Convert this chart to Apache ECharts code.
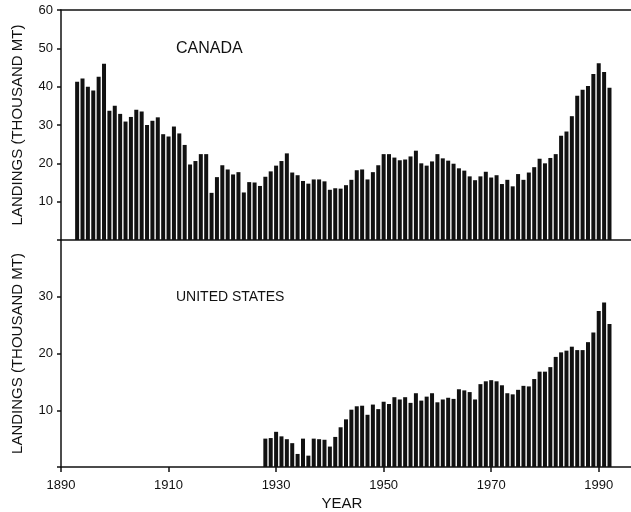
<!DOCTYPE html>
<html>
<head>
<meta charset="utf-8">
<script src="https://cdn.jsdelivr.net/npm/echarts@6/dist/echarts.min.js"></script>
<style>
  html, body { margin: 0; padding: 0; background: #fff; }
  #chart { width: 631px; height: 512px; }
</style>
</head>
<body>
<div id="chart"></div>
<script>
// Annual landings, thousand metric tons
const canadaYears = [
  1893, 1894, 1895, 1896, 1897, 1898, 1899, 1900, 1901, 1902,
  1903, 1904, 1905, 1906, 1907, 1908, 1909, 1910, 1911, 1912,
  1913, 1914, 1915, 1916, 1917, 1918, 1919, 1920, 1921, 1922,
  1923, 1924, 1925, 1926, 1927, 1928, 1929, 1930, 1931, 1932,
  1933, 1934, 1935, 1936, 1937, 1938, 1939, 1940, 1941, 1942,
  1943, 1944, 1945, 1946, 1947, 1948, 1949, 1950, 1951, 1952,
  1953, 1954, 1955, 1956, 1957, 1958, 1959, 1960, 1961, 1962,
  1963, 1964, 1965, 1966, 1967, 1968, 1969, 1970, 1971, 1972,
  1973, 1974, 1975, 1976, 1977, 1978, 1979, 1980, 1981, 1982,
  1983, 1984, 1985, 1986, 1987, 1988, 1989, 1990, 1991, 1992
];
const canadaLandings = [
  41.3, 42.1, 40.0, 39.0, 42.6, 46.0, 33.7, 35.0, 32.9, 30.9,
  32.1, 34.0, 33.5, 30.0, 31.1, 32.0, 27.6, 27.0, 29.6, 27.8,
  24.8, 19.7, 20.6, 22.4, 22.4, 12.3, 16.4, 19.5, 18.4, 17.1,
  17.7, 12.4, 15.1, 15.0, 14.1, 16.5, 17.9, 19.4, 20.6, 22.6,
  17.6, 16.9, 15.4, 14.7, 15.8, 15.8, 15.3, 13.1, 13.5, 13.4,
  14.3, 15.7, 18.2, 18.4, 15.8, 17.7, 19.5, 22.4, 22.4, 21.5,
  20.8, 21.0, 21.8, 23.3, 20.0, 19.4, 20.5, 22.4, 21.3, 20.7,
  19.9, 18.7, 18.1, 16.6, 15.6, 16.6, 17.8, 16.3, 16.9, 14.6,
  15.7, 14.0, 17.2, 15.7, 17.6, 19.0, 21.2, 20.0, 21.4, 22.4,
  27.2, 28.3, 32.3, 37.6, 39.2, 40.2, 43.3, 46.1, 43.8, 39.7
];

const usYears = [
  1928, 1929, 1930, 1931, 1932, 1933, 1934, 1935, 1936, 1937,
  1938, 1939, 1940, 1941, 1942, 1943, 1944, 1945, 1946, 1947,
  1948, 1949, 1950, 1951, 1952, 1953, 1954, 1955, 1956, 1957,
  1958, 1959, 1960, 1961, 1962, 1963, 1964, 1965, 1966, 1967,
  1968, 1969, 1970, 1971, 1972, 1973, 1974, 1975, 1976, 1977,
  1978, 1979, 1980, 1981, 1982, 1983, 1984, 1985, 1986, 1987,
  1988, 1989, 1990, 1991, 1992
];
const usLandings = [
  5.0, 5.1, 6.2, 5.4, 4.9, 4.2, 2.3, 5.0, 2.0, 5.0,
  4.9, 4.8, 3.6, 5.3, 7.0, 8.4, 10.1, 10.7, 10.8, 9.2,
  11.0, 10.2, 11.5, 11.1, 12.3, 11.9, 12.3, 11.3, 13.0, 11.7,
  12.4, 13.0, 11.4, 11.9, 12.2, 12.0, 13.7, 13.5, 13.2, 11.9,
  14.6, 15.1, 15.3, 15.1, 14.4, 13.0, 12.8, 13.6, 14.3, 14.2,
  15.5, 16.8, 16.8, 17.6, 19.4, 20.2, 20.5, 21.2, 20.6, 20.6,
  22.0, 23.7, 27.5, 29.0, 25.2
];

const panelLabels = ['CANADA', 'UNITED STATES'];
const yAxisTitle = 'LANDINGS (THOUSAND MT)';
const xAxisTitle = 'YEAR';

const FONT = '"Liberation Sans", Arial, Helvetica, sans-serif';
const INK = '#111';

function pairs(xs, ys) {
  return xs.map((x, i) => [x, ys[i]]);
}

const lineStyle = { color: INK, width: 1.5 };

const chart = echarts.init(document.getElementById('chart'), null, { renderer: 'canvas' });

chart.setOption({
  animation: false,
  backgroundColor: '#fff',
  textStyle: { fontFamily: FONT, color: INK },
  grid: [
    { left: 61, top: 10, width: 578, height: 230 },
    { left: 61, top: 240, width: 578, height: 231 }
  ],
  xAxis: [
    {
      gridIndex: 0, type: 'value', min: 1890, max: 1996, interval: 20,
      axisLine: { show: true, lineStyle }, axisTick: { show: false },
      axisLabel: { show: false }, splitLine: { show: false }
    },
    {
      gridIndex: 1, type: 'value', min: 1890, max: 1996, interval: 20,
      axisLine: { show: true, lineStyle },
      axisTick: { show: true, length: 5, lineStyle },
      axisLabel: {
        margin: 12, fontSize: 13, color: INK, fontFamily: FONT,
        showMaxLabel: false,
        formatter: v => String(v)
      },
      splitLine: { show: false },
      name: xAxisTitle, nameLocation: 'middle', nameGap: 29,
      nameTextStyle: { fontSize: 15, color: INK, fontFamily: FONT, padding: [0, 0, 0, -8] }
    },
    {
      // frame line along the top of the upper panel
      gridIndex: 0, type: 'value', position: 'top', min: 1890, max: 1996,
      axisLine: { show: true, lineStyle }, axisTick: { show: false },
      axisLabel: { show: false }, splitLine: { show: false }
    }
  ],
  yAxis: [
    {
      gridIndex: 0, type: 'value', min: 0, max: 60, interval: 10,
      axisLine: { show: true, lineStyle },
      axisTick: { show: true, length: 4, lineStyle },
      axisLabel: {
        margin: 8, fontSize: 13, color: INK, fontFamily: FONT,
        formatter: v => (v === 0 ? '' : String(v))
      },
      splitLine: { show: false },
      name: yAxisTitle, nameLocation: 'middle', nameGap: 36,
      nameTextStyle: { fontSize: 15, color: INK, fontFamily: FONT }
    },
    {
      gridIndex: 1, type: 'value', min: 0, max: 40, interval: 10,
      axisLine: { show: true, lineStyle },
      axisTick: { show: true, length: 4, lineStyle },
      axisLabel: {
        margin: 8, fontSize: 13, color: INK, fontFamily: FONT,
        formatter: v => (v === 0 || v === 40 ? '' : String(v))
      },
      splitLine: { show: false },
      name: yAxisTitle, nameLocation: 'middle', nameGap: 36,
      nameTextStyle: { fontSize: 15, color: INK, fontFamily: FONT }
    }
  ],
  graphic: [
    {
      type: 'text', left: 176, top: 41,
      style: { text: panelLabels[0], fill: INK, font: '16px ' + FONT }
    },
    {
      type: 'text', left: 176, top: 290,
      style: { text: panelLabels[1], fill: INK, font: '14px ' + FONT }
    }
  ],
  series: [
    {
      name: panelLabels[0], type: 'bar', xAxisIndex: 0, yAxisIndex: 0,
      data: pairs(canadaYears, canadaLandings),
      barWidth: 4, itemStyle: { color: INK }, silent: true
    },
    {
      name: panelLabels[1], type: 'bar', xAxisIndex: 1, yAxisIndex: 1,
      data: pairs(usYears, usLandings),
      barWidth: 4, itemStyle: { color: INK }, silent: true
    }
  ]
});
</script>
</body>
</html>
